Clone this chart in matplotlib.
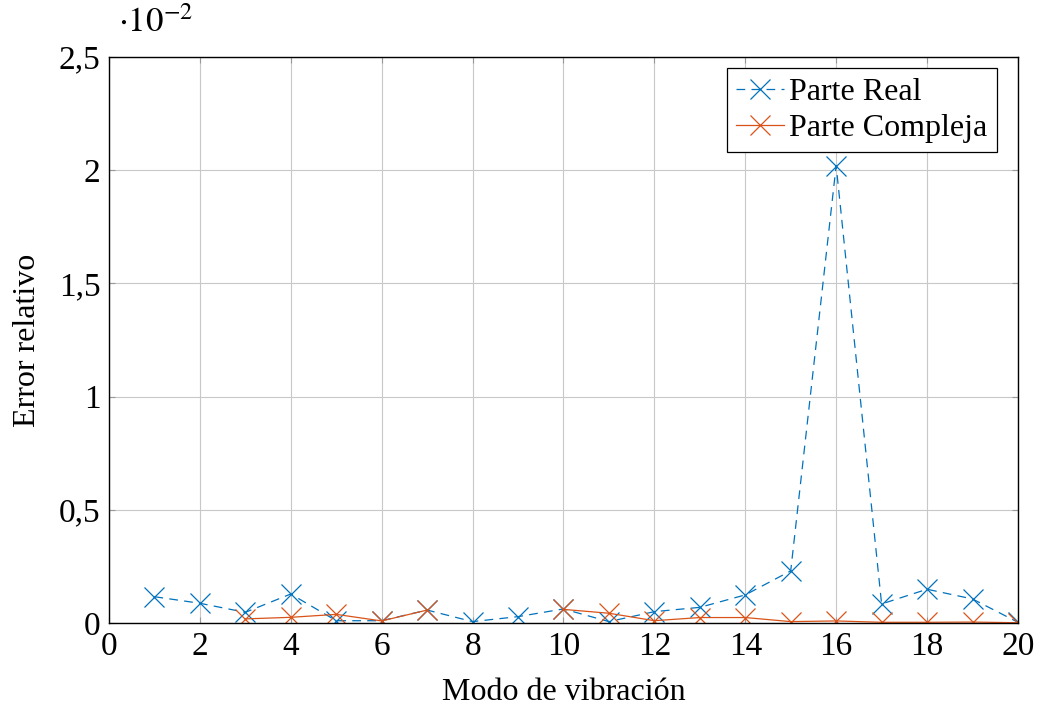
import numpy as np
import matplotlib.pyplot as plt

modos = np.arange(1, 21)
parte_real = [0.116, 0.087, 0.047, 0.128, 0.010, 0.010, 0.057, 0.006, 0.028, 0.062,
              0.006, 0.050, 0.069, 0.124, 0.230, 2.020, 0.084, 0.149, 0.106, 0.003]
parte_compleja = [np.nan, np.nan, 0.018, 0.025, 0.038, 0.009, 0.057, np.nan, np.nan, 0.060,
                  0.043, 0.010, 0.024, 0.024, 0.006, 0.009, 0.003, 0.003, 0.004, 0.001]
xticks = list(range(0, 21, 2))
yticks = [0, 0.5, 1, 1.5, 2, 2.5]
ylabels = ["0", "0,5", "1", "1,5", "2", "2,5"]

plt.rcParams['font.family'] = ['Liberation Serif', 'DejaVu Serif']
plt.rcParams['mathtext.fontset'] = 'stix'

fig = plt.figure(figsize=(10.4, 7.06), dpi=100)
ax = fig.add_axes([0.1048, 0.1176, 0.8740, 0.8017])

ax.plot(modos, parte_real, color='#0072BD', ls=(0, (7, 5)), lw=0.9,
        marker='x', ms=14, mew=0.9, label='Parte Real')
ax.plot(modos, parte_compleja, color='#D95319', ls='-', lw=0.9,
        marker='x', ms=14, mew=0.9, label='Parte Compleja')

ax.set_xlim(0, 20)
ax.set_ylim(0, 2.5)
ax.set_xticks(xticks)
ax.set_yticks(yticks)
ax.set_yticklabels(ylabels)
ax.tick_params(labelsize=24, direction='in', length=4, top=True, right=True,
               color='#999999', pad=6)
ax.grid(True, color='#c8c8c8', lw=0.8)
ax.set_axisbelow(True)
for s in ax.spines.values():
    s.set_linewidth(1.0)

ax.set_xlabel('Modo de vibración', fontsize=23, labelpad=12)
ax.set_ylabel('Error relativo', fontsize=23, labelpad=12)
ax.text(0.01, 1.03, r'$\cdot 10^{-2}$', transform=ax.transAxes, fontsize=25, ha='left', va='bottom')

leg = ax.legend(loc='upper right', bbox_to_anchor=(997 / 1040, 1 - 68 / 706),
                bbox_transform=fig.transFigure, fontsize=23, frameon=True, fancybox=False,
                edgecolor='black', framealpha=1, handlelength=1.5, handletextpad=0.15,
                borderpad=0.3, labelspacing=0.2, borderaxespad=0)
leg.get_frame().set_linewidth(0.9)

fig.savefig('out.png', dpi=100)
